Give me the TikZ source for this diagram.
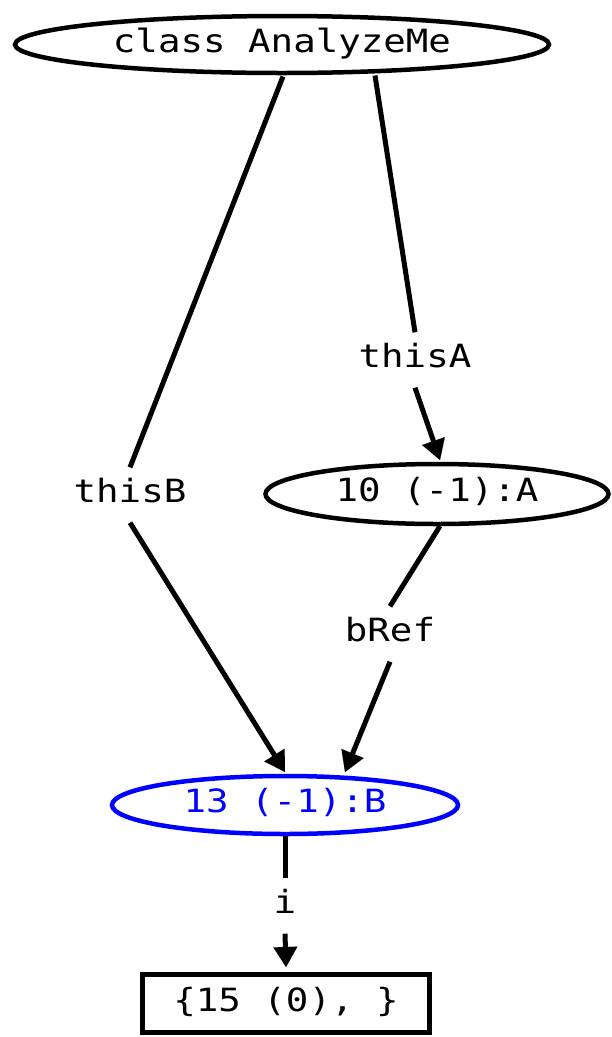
\documentclass[tikz,border=0pt]{standalone}
\usepackage{fontspec}
\newfontfamily\gv[FakeStretch=1.17]{DejaVu Sans Mono}
\usetikzlibrary{arrows.meta,calc,shapes.geometric}
\begin{document}
\begin{tikzpicture}[x=1pt,y=-1pt,
  every node/.style={font=\gv\fontsize{32}{38}\selectfont, text height=23pt, text depth=8pt, inner sep=0pt},
  ell/.style={ellipse, draw, line width=4.5pt},
  lbl/.style={fill=white, inner xsep=2pt, inner ysep=12pt},
  edge/.style={line width=5pt},
  arr/.style={edge, -{Triangle[length=20pt,width=24pt,line width=0.01pt]}}]
\useasboundingbox (0,0) rectangle (611,1037);
\node[ell, minimum width=534pt, minimum height=57pt] (top) at (282,44.5) {class AnalyzeMe};
\node[ell, minimum width=343pt, minimum height=60pt] (A) at (437,494) {10 (-1):A};
\node[ell, draw=blue, text=blue, minimum width=346pt, minimum height=58pt] (B) at (285,805) {13 (-1):B};
\node[draw, line width=5pt, minimum width=287pt, minimum height=58pt] (box) at (286,1003.5) {\{15 (0), \}};
\node[lbl] (lB) at (130,495) {thisB};
\node[lbl] (lA) at (415,360) {thisA};
\node[lbl] (lR) at (390,634) {bRef};
\node[lbl] (li) at (285,906) {i};
\draw[edge] ($(top)+(1,32)$) -- (lB.north);
\draw[arr] (lB.south) -- ($(B)+(0,-33)$);
\draw[edge] ($(top)+(93,31)$) -- (lA.north);
\draw[arr] (lA.south) -- ($(A)+(3,-34)$);
\draw[edge] ($(A)+(3,32)$) -- (lR.north);
\draw[arr] (lR.south) -- ($(B)+(60,-33)$);
\draw[edge] ($(B)+(0,31)$) -- (li.north);
\draw[arr] (li.south) -- ($(box.north)+(0,-5)$);
\end{tikzpicture}
\end{document}
